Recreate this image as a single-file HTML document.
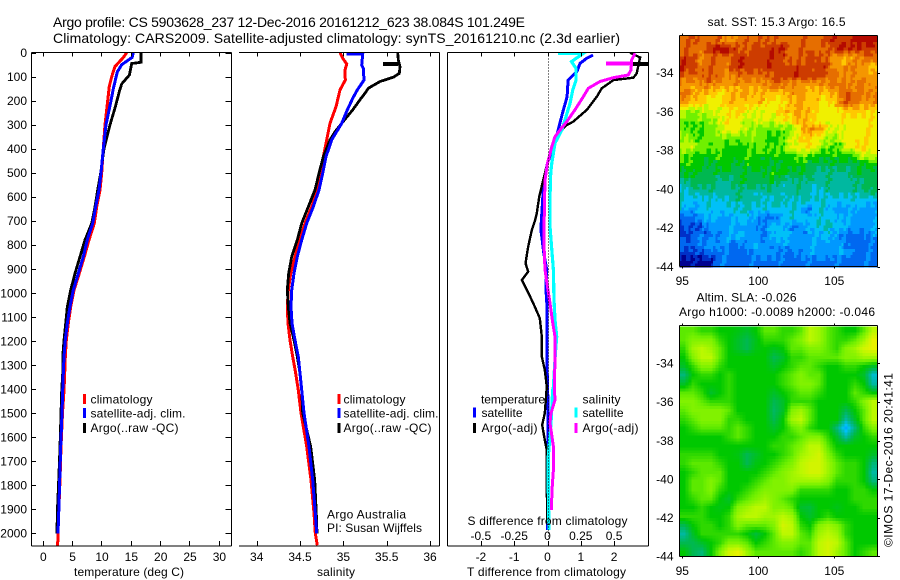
<!DOCTYPE html>
<html>
<head>
<meta charset="utf-8">
<title>Argo profile 5903628_237</title>
<style>
html,body{margin:0;padding:0;background:#fff;}
svg{display:block;}
text{font-family:"Liberation Sans",Arial,sans-serif;font-size:12px;fill:#000;}
.t{font-size:14px;}
</style>
</head>
<body>
<svg id="chart" width="900" height="580" viewBox="0 0 900 580" xmlns="http://www.w3.org/2000/svg">
<defs>
<clipPath id="c1"><rect x="31" y="52" width="200" height="494"/></clipPath>
<clipPath id="c2"><rect x="239" y="52" width="200" height="494"/></clipPath>
<clipPath id="c3"><rect x="447" y="52" width="201" height="494"/></clipPath>
</defs>
<text class="t" x="53" y="27" textLength="472" lengthAdjust="spacing">Argo profile: CS 5903628_237 12-Dec-2016 20161212_623 38.084S 101.249E</text>
<text class="t" x="53" y="43" textLength="567" lengthAdjust="spacing">Climatology: CARS2009. Satellite-adjusted climatology: synTS_20161210.nc (2.3d earlier)</text>

<g id="marks1" clip-path="url(#c1)"></g>
<g id="marks2" clip-path="url(#c2)"></g>
<g id="marks3" clip-path="url(#c3)"></g>
<g id="axes" shape-rendering="crispEdges"></g>
<g id="ticklabels"></g>
<g id="map1" shape-rendering="crispEdges"></g>
<g id="map2" shape-rendering="crispEdges"></g>
<g id="mapaxes" shape-rendering="crispEdges"></g>

<text x="74" y="576" textLength="110" lengthAdjust="spacing">temperature (deg C)</text>
<text x="317" y="576" textLength="38" lengthAdjust="spacing">salinity</text>
<text x="467" y="576" textLength="159" lengthAdjust="spacing">T difference from climatology</text>
<text x="467.5" y="525" textLength="160" lengthAdjust="spacing">S difference from climatology</text>

<g>
<rect x="83" y="394" width="3" height="10" fill="#f00"/>
<text x="90.5" y="403.5" textLength="62" lengthAdjust="spacing">climatology</text>
<rect x="83" y="408" width="3" height="10" fill="#00f"/>
<text x="90.5" y="417.5" textLength="95" lengthAdjust="spacing">satellite-adj. clim.</text>
<rect x="83" y="423" width="3" height="10" fill="#000"/>
<text x="90.5" y="432" textLength="88" lengthAdjust="spacing">Argo(..raw -QC)</text>
</g>
<g>
<rect x="337.5" y="394" width="3" height="10" fill="#f00"/>
<text x="343.5" y="403.5" textLength="62" lengthAdjust="spacing">climatology</text>
<rect x="337.5" y="408" width="3" height="10" fill="#00f"/>
<text x="343.5" y="417.5" textLength="95" lengthAdjust="spacing">satellite-adj. clim.</text>
<rect x="337.5" y="423" width="3" height="10" fill="#000"/>
<text x="343.5" y="432" textLength="88" lengthAdjust="spacing">Argo(..raw -QC)</text>
<text x="327" y="518.5" textLength="79" lengthAdjust="spacing">Argo Australia</text>
<text x="327" y="532" textLength="95" lengthAdjust="spacing">PI: Susan Wijffels</text>
</g>
<g>
<text x="481" y="403.5" textLength="64" lengthAdjust="spacing">temperature</text>
<text x="582.5" y="403.5" textLength="38" lengthAdjust="spacing">salinity</text>
<rect x="473" y="407.5" width="3" height="10" fill="#00f"/>
<text x="481.5" y="417" textLength="41" lengthAdjust="spacing">satellite</text>
<rect x="473" y="423" width="3" height="10" fill="#000"/>
<text x="481.5" y="432" textLength="56" lengthAdjust="spacing">Argo(-adj)</text>
<rect x="574.5" y="407.5" width="3" height="10" fill="#0ff"/>
<text x="582.5" y="417" textLength="41" lengthAdjust="spacing">satellite</text>
<rect x="574.5" y="423" width="3" height="10" fill="#f0f"/>
<text x="582.5" y="432" textLength="56" lengthAdjust="spacing">Argo(-adj)</text>
</g>

<text x="707.5" y="26" textLength="138" lengthAdjust="spacing">sat. SST: 15.3 Argo: 16.5</text>
<text x="696.5" y="301.5" textLength="100" lengthAdjust="spacing">Altim. SLA: -0.026</text>
<text x="679" y="316" textLength="196" lengthAdjust="spacing">Argo h1000: -0.0089 h2000: -0.046</text>
<text transform="translate(892.5,547) rotate(-90)" x="0" y="0" textLength="174" lengthAdjust="spacing">©IMOS 17-Dec-2016 20:41:41</text>
</svg>

<script>
// ---- Profile data (depth in m, temperature in deg C, salinity in psu) ----
const climTempDepth = [0,20,58,100,140,200,300,400,500,571,641,710,779,849,918,988,1057,1126,1196,1265,1334,1404,1499,1639,1778,1916,2000,2050];
const climTemp = [14.34,13.76,12.35,11.79,11.38,11.11,10.65,10.36,10.09,9.8,9.23,8.82,7.92,7.12,6.27,5.37,4.8,4.4,4.05,3.88,3.78,3.66,3.41,3.15,2.98,2.76,2.62,2.59];
const satTempDepth = [0,20,50,80,150,200,300,400,500,571,641,710,779,849,918,988,1057,1126,1196,1265,1334,1404,1499,1639,1778,1916,2000];
const satTemp = [15.47,15.25,13.49,12.74,12.06,11.67,10.82,10.36,9.97,9.63,9.06,8.55,7.63,6.95,6.1,5.25,4.68,4.22,3.88,3.66,3.54,3.44,3.32,3.1,2.93,2.76,2.64];
const argoTempDepth = [0,40,45,93,130,160,220,300,400,500,571,641,710,779,849,918,988,1057,1126,1196,1265,1334,1404,1499,1639,1778,1916,2000];
const argoTemp = [16.78,16.78,15.2,14.8,13.5,13.1,12.47,11.5,10.48,9.91,9.4,8.94,8.38,7.24,6.39,5.54,4.8,4.22,3.95,3.66,3.44,3.44,3.27,3.15,2.98,2.76,2.52,2.47];

const climSalDepth = [0,23,47,72,114,155,225,294,363,433,502,571,641,710,779,849,918,988,1057,1126,1196,1265,1334,1404,1499,1639,1778,1916,2000,2050];
const climSal = [34.961,34.992,35.038,35.019,35.022,34.961,34.915,34.846,34.808,34.768,34.738,34.699,34.635,34.557,34.5,34.442,34.392,34.365,34.353,34.361,34.384,34.415,34.45,34.48,34.511,34.577,34.627,34.661,34.676,34.699];
const satSalDepth = [5,5,51,65,114,155,190,238,294,363,433,502,571,641,710,779,849,918,988,1057,1126,1196,1265,1334,1404,1499,1639,1778,1916,2000];
const satSal = [35.038,35.223,35.212,35.23,35.238,35.161,35.108,35.045,34.981,34.865,34.8,34.762,34.719,34.653,34.577,34.519,34.468,34.43,34.404,34.396,34.407,34.442,34.48,34.5,34.519,34.546,34.603,34.646,34.676,34.692];
const argoSalDepth = [0,30,58,86,102,120,148,169,190,238,294,329,363,433,502,571,641,710,779,849,918,988,1057,1126,1196,1265,1334,1404,1499,1639,1778,1916,2000];
const argoSal = [35.627,35.634,35.653,35.645,35.576,35.423,35.288,35.25,35.203,35.108,34.981,34.904,34.846,34.768,34.719,34.673,34.595,34.519,34.468,34.404,34.369,34.353,34.365,34.384,34.43,34.468,34.5,34.519,34.531,34.623,34.669,34.688,34.696];
const argoSalSpikeDepth = [46,46];
const argoSalSpike = [35.46,35.63];

// ---- Difference data ----
const satTDiffDepth = [10,23,44,79,114,183,251,322,391,460,530,600,738,766,835,904,974,1042,1112,1250,1390,1480,1600,1800,1986];
const satTDiff = [1.37,1.18,0.98,0.88,0.62,0.59,0.45,0.32,0.17,0,-0.11,-0.14,-0.2,-0.17,-0.11,-0.02,-0.05,-0.02,-0.02,-0.02,0,0.02,0.02,-0.01,0];
const argoTDiffDepth = [0,20,86,104,114,148,183,238,287,301,349,391,460,530,600,668,696,738,807,876,911,946,987,1042,1105,1182,1265,1320,1390,1500,1549,1612,1653,1820,1958];
const argoTDiff = [2.48,2.78,2.68,2.58,1.98,1.63,1.48,1.18,0.77,0.58,0.23,0.13,0,-0.13,-0.25,-0.32,-0.37,-0.47,-0.58,-0.66,-0.58,-0.77,-0.62,-0.43,-0.23,-0.17,-0.17,-0.08,-0.02,-0.08,-0.16,-0.08,-0.02,-0.02,0];
const argoTSpikeDepth = [46,46];
const argoTSpike = [2.52,3.2];
const satSDiffDepth = [3,3,37,65,114,155,211,266,322,376,460,502,600,724,821,904,1029,1112,1182,1250,1390,1404,1542,1680,1820,1986];
const satSDiff = [0.08,0.269,0.18,0.214,0.214,0.19,0.169,0.139,0.107,0.056,0.032,0.024,0.019,0.019,0.032,0.044,0.049,0.056,0.069,0.059,0.044,0.039,0.026,0.006,0.006,0.011];
const argoSDiffDepth = [2,30,72,93,104,120,148,183,238,287,322,349,391,460,530,668,766,835,904,974,1042,1112,1182,1278,1390,1445,1500,1542,1639,1736,1820,1903];
const argoSDiff = [0.657,0.632,0.627,0.606,0.494,0.394,0.306,0.269,0.206,0.144,0.094,0.056,0.032,0,-0.019,-0.024,-0.026,-0.024,-0.019,0,0.019,0.036,0.056,0.056,0.051,0.056,0.026,0.019,0.044,0.044,0.034,0.029];
const argoSSpikeDepth = [44,44];
const argoSSpike = [0.439,0.632];

// ---- Tick labels ----
const depthTicks = [0,100,200,300,400,500,600,700,800,900,1000,1100,1200,1300,1400,1500,1600,1700,1800,1900,2000];
const tempTicks = [0,5,10,15,20,25,30];
const salTicks = [34,34.5,35,35.5,36];
const salTickLabels = ['34','34.5','35','35.5','36'];
const tDiffTicks = [-2,-1,0,1,2];
const sDiffTicks = [-0.5,-0.25,0,0.25,0.5];
const sDiffTickLabels = ['-0.5','-0.25','0','0.25','0.5'];
const lonTicks = [95,100,105];
const latTicks = [-34,-36,-38,-40,-42,-44];

// ---- Map colour level grids (rows north to south, columns west to east) ----
const sstLevels = [
[13,14,13,13,13,12,13,13,13,14,13,13,13,13,13,13,14,14,14,15,15,15],
[13,13,13,14,15,15,14,13,14,14,14,15,13,13,13,13,13,14,15,14,14,14],
[14,14,12,13,13,13,14,14,14,14,14,14,13,13,14,14,13,12,11,12,13,13],
[15,14,13,13,13,13,14,14,14,14,14,14,14,14,14,14,14,12,12,13,12,11],
[13,13,13,14,13,12,13,13,13,13,14,14,14,14,14,14,13,13,12,12,12,12],
[12,12,12,13,12,12,12,12,12,12,13,13,12,12,12,12,12,13,13,12,13,12],
[13,12,11,11,10,11,11,12,11,11,11,11,12,12,11,11,11,12,13,13,13,12],
[12,11,11,10,10,11,11,11,11,11,10,10,11,12,11,11,10,11,13,13,12,12],
[9,8,9,9,10,10,11,10,9,10,10,11,11,12,11,10,10,10,11,11,11,10],
[8,8,8,8,9,10,10,9,9,10,9,10,10,12,11,10,10,10,10,10,10,10],
[8,7,7,8,9,10,10,9,8,8,8,8,8,11,12,12,10,9,10,10,10,10],
[9,8,7,8,8,8,8,8,8,8,7,7,9,10,11,10,9,8,10,10,10,10],
[9,9,8,8,8,7,7,7,8,8,7,8,10,10,11,9,8,7,10,10,11,10],
[8,7,7,7,7,7,7,7,7,7,7,7,7,8,8,7,7,7,7,7,9,9],
[7,7,7,6,7,7,6,7,7,7,6,7,7,7,6,6,6,6,6,6,6,7],
[6,7,6,6,6,6,6,6,6,6,7,7,6,6,6,5,5,5,5,6,6,6],
[5,6,6,6,5,5,6,6,6,6,6,5,5,6,5,5,5,5,5,5,6,6],
[4,5,5,5,5,5,5,5,5,5,5,5,5,5,5,4,5,5,5,5,5,6],
[4,4,4,5,4,5,5,5,5,4,5,5,4,5,5,4,4,4,4,4,4,4],
[4,3,4,4,4,4,4,5,4,4,4,4,4,4,2,4,4,3,3,4,3,3],
[2,2,3,4,3,3,4,4,3,2,2,4,4,4,4,4,4,4,3,3,3,3],
[1,2,1,3,3,3,3,3,3,2,4,4,3,2,4,4,5,4,4,3,3,3],
[1,2,2,2,3,3,4,3,3,2,4,4,3,3,3,3,4,3,2,2,2,3],
[2,2,2,3,3,3,2,3,3,3,3,3,3,3,3,3,3,3,3,2,2,2],
[1,1,1,2,2,2,2,2,3,3,3,2,2,3,3,3,3,3,3,2,2,2],
[0,0,0,0,2,2,2,2,2,2,2,2,2,2,2,2,2,2,2,2,2,2]
];
const slaLevels = [
[8,8,7.5,7.5,7,7,6.8,6.5,7,8,8,7.5,7.5,8,9.5,9,8,7.5,7,7,8,9.5],
[8,8.5,8.5,8.5,7.5,7,6.5,6,6.7,7.5,7.5,7.5,8,8.5,9.5,9,8,7.5,7.5,8,9,10.5],
[7.5,9,9.5,9,8,7,6.5,6,6.8,7,6.7,7,8,8,8.5,8.5,8,7.5,8.5,9,10,10.5],
[7,8.5,9.5,9.5,8,7,7,7,7,7,6,6.5,7.5,7.5,8,8,8,8,8.5,8.5,9,9],
[6.5,7.5,8.5,8.5,7.5,7,7,7,7,7,6.5,7,7.5,8,8,7.5,7,7,7.5,7.5,7,6.5],
[5.5,7,7.5,7.5,7,7.5,7,7,7,7,7,7.5,8,8.5,8,8,7,7,7,7,6.5,4.5],
[6.5,7.5,7,7,7,7.5,7,7,7,7,7,7.5,8,8.5,8.5,8,7,7,7,7.5,7,5],
[8,8,7.5,6.5,7,7.5,7,7,7,7,6.5,7,7.5,8,8,7.5,7,7,7,8,7.5,7],
[8.5,8.5,8,7.5,7.5,7.5,7,7,7,7,6,6.5,7.5,7.5,7.5,7,7,7,7,7.5,8.5,9.5],
[8,8.5,8.5,8.5,8.5,8,7,7,7,7,5.8,6.5,8.5,9,8,7,7,7,6,7,8,9.5],
[7.5,8,8.5,8.5,8.5,7.5,7.5,7,7,7,6,7,9,9.5,8,7,7,7,5,6.5,8,9.5],
[7,7.5,8,8,8,7.5,8,7.5,7,7,6.5,7,8,8.5,7.5,7,7,5.5,3.5,5.5,7.5,8.5],
[7,7,7,7,7,7.5,8,7.5,7,7,7,7.5,7.5,8,8.5,8.5,7.5,6.5,5,6.5,7,7.5],
[7,7,7,7,7,7,7,7,7,7,7.5,7.5,8,8.5,9.5,9.5,8,7,7,7,7,7],
[7.5,7.5,7.5,7.5,7,7,6.8,6,6.5,7,7,7.5,8,9,9.5,10,8.5,7.5,7,7,7,6.5],
[7.5,8,8,8,7.5,7,7,6,6.8,7,7.5,8,8.5,9.5,10,10,9,8,7.5,7.5,7,5.5],
[7,7.5,8,8,8,7,7,7,7,7.5,8,8.5,9,9.5,10,10,9,8,7.5,7.5,7,5],
[7,8,8,8.5,8,7,7,7,7.5,8,8.5,8.5,9,9,9,9,8.5,7.5,7.5,7.5,7,5.5],
[7,8,8,8.5,7.5,7,7,7.5,8,8.5,8.5,8.5,8.5,7.5,7.5,7.5,7.5,7,7,7.5,7.5,7],
[7,7.5,8,8,7,6.5,7.5,8,8.5,9,8.5,8,7.5,7,7,7,7,7,7,7.5,7.5,7.5],
[7,7,7.5,7,6.8,7,8.5,9,9.5,9.5,8.5,8.5,8,6.5,6.3,7,7,6.7,7,7,7.5,7.5],
[7.5,7.5,7.5,7,7,7.5,9,9.5,9.5,9,9,9.5,9,7,6.5,7,7.5,7,7,7,7,7],
[6,7,7.5,7.5,7,7.5,8.5,8,8,8,8.5,10,9.5,7.5,7,8.5,9,8.5,7.5,7,7,7],
[5,6.5,7.5,7.5,7.5,7.5,7.5,7,6.3,7,8,9.5,9.5,8,7.5,9,9.5,9,7.5,7,7,7],
[6,6,6.5,7,7.5,8.5,8.5,8,7,7.5,8,8.5,8.5,8,8,9.5,10,9.5,8,7,7,7],
[7,6,5.5,7,8.5,10,10.5,9,8,8,8,8,8,7.5,8,9.5,10,9,8,7,7.5,8]
];
const colourRamp = [[0,0,144],[0,48,200],[0,104,240],[0,152,255],[0,192,248],[0,184,160],[0,184,80],[0,200,0],[112,240,0],[184,248,0],[240,240,0],[255,200,0],[245,150,0],[230,110,0],[205,60,0],[180,10,0]];
const streakPattern = [-0.5,0.4,-0.2,0.5,-0.4,0.2,0.3];

// ---- Axis functions ----
const NS = 'http://www.w3.org/2000/svg';
const yDepth = d => 52.7 + d * 0.2403;
const xTemp = t => 42.5 + t * 5.87;
const xSal = s => 256.7 + (s - 34) * 86.67;
const xTDiff = t => 547.5 + t * 33.3;
const xSDiff = s => 547.5 + s * 133.2;
const xLon = lon => 682.3 + (lon - 95) * 15.2;
const yLat = lat => 72.7 + (-34 - lat) * 19.4;
const yLatMap2 = lat => 363.3 + (-34 - lat) * 19.3;
const colourOf = v => {
  const i = Math.max(0, Math.min(14, Math.floor(v)));
  const f = Math.max(0, Math.min(1, v - i));
  const a = colourRamp[i], b = colourRamp[i + 1];
  return 'rgb(' + [0,1,2].map(k => Math.round(a[k] + (b[k] - a[k]) * f)).join(',') + ')';
};
const sampleGrid = (grid, gx, gy) => {
  gx = Math.max(0, Math.min(21, gx));
  gy = Math.max(0, Math.min(25, gy));
  const r0 = Math.floor(gy), r1 = Math.min(25, r0 + 1);
  const c0 = Math.floor(gx), c1 = Math.min(21, c0 + 1);
  const fy = gy - r0, fx = gx - c0;
  return grid[r0][c0] * (1 - fx) * (1 - fy) + grid[r0][c1] * fx * (1 - fy) + grid[r1][c0] * (1 - fx) * fy + grid[r1][c1] * fx * fy;
};

function drawSeries(parentId, name, depths, values, xf, colour, width) {
  const p = document.createElementNS(NS, 'polyline');
  
  
  p.setAttribute('points', depths.map((d, i) => xf(values[i]).toFixed(1) + ',' + yDepth(d).toFixed(1)).join(' '));
  p.setAttribute('fill', 'none');
  p.setAttribute('stroke', colour);
  p.setAttribute('stroke-width', width);
  p.setAttribute('shape-rendering', 'crispEdges');
  document.getElementById(parentId).appendChild(p);
}
function axisLine(x1, y1, x2, y2, name, dash) {
  const l = document.createElementNS(NS, 'line');
  
  
  l.setAttribute('x1', x1); l.setAttribute('y1', y1);
  l.setAttribute('x2', x2); l.setAttribute('y2', y2);
  l.setAttribute('stroke', '#000');
  l.setAttribute('stroke-width', 1);
  if (dash) l.setAttribute('stroke-dasharray', dash);
  document.getElementById('axes').appendChild(l);
}
function mapLine(x1, y1, x2, y2, name) {
  const l = document.createElementNS(NS, 'line');
  
  
  l.setAttribute('x1', x1); l.setAttribute('y1', y1);
  l.setAttribute('x2', x2); l.setAttribute('y2', y2);
  l.setAttribute('stroke', '#000');
  l.setAttribute('stroke-width', 1);
  document.getElementById('mapaxes').appendChild(l);
}
function tickText(x, y, str, anchor, name) {
  const t = document.createElementNS(NS, 'text');
  
  
  t.setAttribute('x', x);
  t.setAttribute('y', y);
  t.setAttribute('text-anchor', anchor);
  t.textContent = str;
  document.getElementById('ticklabels').appendChild(t);
}

// ---- Temperature panel ----
drawSeries('marks1', 'temperature-climatology-line', climTempDepth, climTemp, xTemp, '#f00', 3);
drawSeries('marks1', 'temperature-argo-line', argoTempDepth, argoTemp, xTemp, '#000', 2.8);
drawSeries('marks1', 'temperature-satellite-line', satTempDepth, satTemp, xTemp, '#00f', 3);
// ---- Salinity panel ----
drawSeries('marks2', 'salinity-climatology-line', climSalDepth, climSal, xSal, '#f00', 3);
drawSeries('marks2', 'salinity-argo-line', argoSalDepth, argoSal, xSal, '#000', 2.8);
drawSeries('marks2', 'salinity-argo-raw-spike', argoSalSpikeDepth, argoSalSpike, xSal, '#000', 4);
drawSeries('marks2', 'salinity-satellite-line', satSalDepth, satSal, xSal, '#00f', 3);
// ---- Difference panel ----
drawSeries('marks3', 't-difference-satellite-line', satTDiffDepth, satTDiff, xTDiff, '#00f', 3);
drawSeries('marks3', 't-difference-argo-line', argoTDiffDepth, argoTDiff, xTDiff, '#000', 2.4);
drawSeries('marks3', 't-difference-argo-spike', argoTSpikeDepth, argoTSpike, xTDiff, '#000', 4);
drawSeries('marks3', 's-difference-satellite-line', satSDiffDepth, satSDiff, xSDiff, '#0ff', 3.2);
drawSeries('marks3', 's-difference-argo-line', argoSDiffDepth, argoSDiff, xSDiff, '#f0f', 3);
drawSeries('marks3', 's-difference-argo-spike', argoSSpikeDepth, argoSSpike, xSDiff, '#f0f', 4);

// ---- Panel frames ----
const yTop = 52.5, yBot = 546;
axisLine(31.5, yTop, 231.5, yTop, 'temperature-panel-top-spine');
axisLine(31.5, yBot, 231.5, yBot, 'temperature-panel-bottom-spine');
axisLine(31.5, yTop, 31.5, yBot, 'temperature-panel-left-spine');
axisLine(231.5, yTop, 231.5, yBot, 'temperature-panel-right-spine');
axisLine(239, yTop, 439.5, yTop, 'salinity-panel-top-spine');
axisLine(239, yBot, 439.5, yBot, 'salinity-panel-bottom-spine');
axisLine(439.5, yTop, 439.5, yBot, 'salinity-panel-right-spine');
axisLine(447.5, yTop, 648.5, yTop, 'difference-panel-top-spine');
axisLine(447.5, yBot, 648.5, yBot, 'difference-panel-bottom-spine');
axisLine(447.5, yTop, 447.5, yBot, 'difference-panel-left-spine');
axisLine(648.5, yTop, 648.5, yBot, 'difference-panel-right-spine');
axisLine(548.5, yTop, 548.5, yBot, 'zero-difference-dotted-line', '1 2');

depthTicks.forEach(d => {
  const y = Math.round(yDepth(d)) + 0.5;
  axisLine(31.5, y, 36, y, 'depth-tick-left');
  axisLine(225.5, y, 231.5, y, 'depth-tick-right');
  tickText(27, yDepth(d) + 4.3, String(d), 'end', 'depth-tick-label');
});
tempTicks.forEach(t => {
  const x = Math.round(xTemp(t)) + 0.5;
  axisLine(x, yTop, x, yTop + 4, 'temperature-tick-top');
  axisLine(x, yBot - 5, x, yBot, 'temperature-tick-bottom');
  tickText(xTemp(t) + 0.8, 561, String(t), 'middle', 'temperature-tick-label');
});
salTicks.forEach((s, i) => {
  const x = Math.round(xSal(s)) + 0.5;
  axisLine(x, yTop, x, yTop + 4, 'salinity-tick-top');
  axisLine(x, yBot - 5, x, yBot, 'salinity-tick-bottom');
  tickText(xSal(s), 561, salTickLabels[i], 'middle', 'salinity-tick-label');
});
tDiffTicks.forEach(t => {
  const x = Math.round(xTDiff(t)) + 0.5;
  axisLine(x, yTop, x, yTop + 4, 't-difference-tick-top');
  axisLine(x, yBot - 5, x, yBot, 't-difference-tick-bottom');
  tickText(xTDiff(t), 561, String(t), 'middle', 't-difference-tick-label');
});
sDiffTicks.forEach((s, i) => {
  tickText(xSDiff(s), 540, sDiffTickLabels[i], 'middle', 's-difference-tick-label');
});

// ---- SST map: quantised colour levels with slanted streak texture ----
const lonW = 94.8, lonE = 107.83, latN = -32.1, latS = -44;
const SST_SUBX = 4, SST_SUBY = 3;
for (let r = 0; r < 26 * SST_SUBY; r++) {
  for (let c = 0; c < 22 * SST_SUBX; c++) {
    const rowFrac = ((r % SST_SUBY) + 0.5) / SST_SUBY;
    const gy = (r + 0.5) / SST_SUBY - 0.5;
    const gx = (c + 0.5) / SST_SUBX - 0.5 + (rowFrac - 0.5) * 0.5 + (Math.floor(r / SST_SUBY) % 2) * 0.25;
    const stripe = streakPattern[((Math.floor((gx + 1) * 2.2) + Math.floor(r / (2 * SST_SUBY))) % streakPattern.length + streakPattern.length) % streakPattern.length];
    const v = Math.round(sampleGrid(sstLevels, gx, gy) + stripe);
    const x0 = xLon(lonW + (lonE - lonW) * c / (22 * SST_SUBX)), x1 = xLon(lonW + (lonE - lonW) * (c + 1) / (22 * SST_SUBX));
    const y0 = yLat(latN + (latS - latN) * r / (26 * SST_SUBY)), y1 = yLat(latN + (latS - latN) * (r + 1) / (26 * SST_SUBY));
    const cell = document.createElementNS(NS, 'rect');
    
    
    cell.setAttribute('x', x0.toFixed(1));
    cell.setAttribute('y', y0.toFixed(1));
    cell.setAttribute('width', (x1 - x0 + 0.6).toFixed(1));
    cell.setAttribute('height', (y1 - y0 + 0.6).toFixed(1));
    cell.setAttribute('fill', colourOf(v));
    document.getElementById('map1').appendChild(cell);
  }
}

// ---- SLA map (smoothly interpolated cells) ----
const SUB = 3;
for (let r = 0; r < 26 * SUB; r++) {
  for (let c = 0; c < 22 * SUB; c++) {
    const gy = (r + 0.5) / SUB - 0.5, gx = (c + 0.5) / SUB - 0.5;
    let v = sampleGrid(slaLevels, gx, gy);
    if (v > 7) v = 7 + (v - 7) * 0.82;
    const x0 = xLon(lonW + (lonE - lonW) * c / (22 * SUB)), x1 = xLon(lonW + (lonE - lonW) * (c + 1) / (22 * SUB));
    const y0 = yLatMap2(latN + (latS - latN) * r / (26 * SUB)), y1 = yLatMap2(latN + (latS - latN) * (r + 1) / (26 * SUB));
    const cell = document.createElementNS(NS, 'rect');
    
    
    cell.setAttribute('x', x0.toFixed(1));
    cell.setAttribute('y', y0.toFixed(1));
    cell.setAttribute('width', (x1 - x0 + 0.6).toFixed(1));
    cell.setAttribute('height', (y1 - y0 + 0.6).toFixed(1));
    cell.setAttribute('fill', colourOf(v));
    document.getElementById('map2').appendChild(cell);
  }
}

// ---- Map frames and ticks ----
[[35.5, 266.5, yLat, 285, 'sst'], [325.5, 556.5, yLatMap2, 575, 'sla']].forEach(m => {
  const top = m[0], bot = m[1], yf = m[2], labelY = m[3], key = m[4];
  mapLine(679.5, top, 877.5, top, key + '-map-top-frame');
  mapLine(679.5, bot, 877.5, bot, key + '-map-bottom-frame');
  mapLine(679.5, top, 679.5, bot, key + '-map-left-frame');
  mapLine(877.5, top, 877.5, bot, key + '-map-right-frame');
  lonTicks.forEach(lon => {
    const x = Math.round(xLon(lon)) + 0.5;
    mapLine(x, top - 2, x, top, key + '-longitude-tick-top');
    mapLine(x, bot, x, bot + 2, key + '-longitude-tick-bottom');
    tickText(xLon(lon), labelY, String(lon), 'middle', key + '-longitude-tick-label');
  });
  latTicks.forEach(lat => {
    const y = Math.round(yf(lat)) + 0.5;
    mapLine(877.5, y, 880, y, key + '-latitude-tick');
    tickText(673.5, yf(lat) + 4.3, String(lat), 'end', key + '-latitude-tick-label');
  });
});
</script>
</body>
</html>
